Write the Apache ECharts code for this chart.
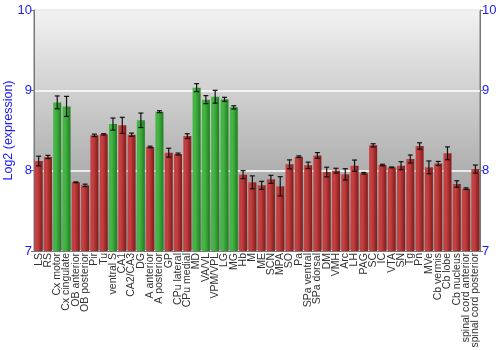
<!DOCTYPE html>
<html>
<head>
<meta charset="utf-8">
<script src="https://cdn.jsdelivr.net/npm/echarts@6/dist/echarts.min.js"></script>
<style>
  html, body { margin: 0; padding: 0; background: #fff; }
  #chart { width: 500px; height: 350px; }
</style>
</head>
<body>
<div id="chart"></div>
<script>
const regions = ['LS', 'RS', 'Cx motor', 'Cx cingulate', 'OB anterior', 'OB posterior', 'Pir', 'Tu',
  'ventral S', 'CA1', 'CA2/CA3', 'DG', 'A anterior', 'A posterior', 'GP', 'CPu lateral', 'CPu medial',
  'MD', 'VA/VL', 'VPM/VPL', 'LG', 'MG', 'Hb', 'M', 'ME', 'SCN', 'MPA', 'SO', 'Pa', 'SPa ventral',
  'SPa dorsal', 'DM', 'VMH', 'Arc', 'LH', 'PAG', 'SC', 'IC', 'VTA', 'SN', 'Tg', 'Pn', 'MVe',
  'Cb vermis', 'Cb lobe', 'Cb nucleus', 'spinal cord anterior', 'spinal cord posterior'];

const expression = [8.12, 8.17, 8.85, 8.80, 7.855, 7.817, 8.44, 8.452,
  8.58, 8.564, 8.448, 8.627, 8.295, 8.734, 8.224, 8.207, 8.43,
  9.033, 8.884, 8.92, 8.888, 8.788, 7.95, 7.855, 7.817, 7.892, 7.805, 8.079, 8.174, 8.066,
  8.19, 7.983, 8.0, 7.954, 8.062, 7.967, 8.315, 8.07, 8.041, 8.062, 8.145, 8.307, 8.041,
  8.09, 8.216, 7.834, 7.776, 8.02];

const errors = [0.06, 0.02, 0.08, 0.125, 0.005, 0.015, 0.015, 0.008,
  0.075, 0.1, 0.02, 0.09, 0.01, 0.012, 0.055, 0.012, 0.03,
  0.05, 0.05, 0.08, 0.025, 0.02, 0.05, 0.08, 0.05, 0.05, 0.12, 0.055, 0.01, 0.04,
  0.035, 0.06, 0.03, 0.07, 0.07, 0.01, 0.02, 0.01, 0.005, 0.05, 0.05, 0.04, 0.08,
  0.025, 0.08, 0.04, 0.01, 0.05];

// 1 = highlighted (green) region
const highlighted = [0, 0, 1, 1, 0, 0, 0, 0,
  1, 0, 0, 1, 0, 1, 0, 0, 0,
  1, 1, 1, 1, 1, 0, 0, 0, 0, 0, 0, 0, 0,
  0, 0, 0, 0, 0, 0, 0, 0, 0, 0, 0, 0, 0,
  0, 0, 0, 0, 0];

const yTicks = [7, 8, 9, 10];

const barGradient = (light, dark) => new echarts.graphic.LinearGradient(0, 0, 1, 0, [
  { offset: 0, color: light },
  { offset: 0.35, color: light },
  { offset: 1, color: dark }
]);
const redFill = barGradient('#c43f3f', '#801a1a');
const greenFill = barGradient('#44b444', '#1e7e1e');

const chart = echarts.init(document.getElementById('chart'));

const yAxisBase = {
  type: 'value',
  min: yTicks[0],
  max: yTicks[yTicks.length - 1],
  interval: 1,
  axisLine: { show: true, lineStyle: { color: '#777', width: 1 } },
  axisTick: { show: true, length: 3, lineStyle: { color: '#777' } },
  axisLabel: { color: '#1a1aff', fontSize: 13, fontFamily: 'Liberation Sans', margin: 2 },
  splitLine: { show: false }
};

const option = {
  animation: false,
  grid: {
    left: 34, right: 20, top: 10, bottom: 99,
    outerBoundsMode: 'none',
    containLabel: false,
    show: true,
    borderColor: '#777',
    borderWidth: 1,
    backgroundColor: new echarts.graphic.LinearGradient(0, 0, 0, 1, [
      { offset: 0, color: '#f2f2f2' },
      { offset: 1, color: '#8e8e8e' }
    ])
  },
  xAxis: {
    type: 'category',
    data: regions,
    axisLine: { show: true, lineStyle: { color: '#777' } },
    axisTick: { show: false },
    axisLabel: {
      interval: 0,
      rotate: 90,
      color: '#333',
      fontSize: 10.5,
      fontFamily: 'Liberation Sans',
      margin: 2,
      lineHeight: 11
    }
  },
  yAxis: [
    Object.assign({}, yAxisBase, {
      position: 'left',
      name: 'Log2 (expression)',
      nameLocation: 'middle',
      nameGap: 19,
      nameMoveOverlap: false,
      nameTextStyle: { color: '#1a1aff', fontSize: 12.5, fontFamily: 'Liberation Sans' },
      splitLine: { show: true, lineStyle: { color: '#ffffff', width: 1.5 } }
    }),
    Object.assign({}, yAxisBase, { position: 'right' })
  ],
  series: [
    {
      type: 'bar',
      barCategoryGap: '14%',
      data: expression.map((v, i) => ({
        value: v,
        itemStyle: { color: highlighted[i] ? greenFill : redFill }
      }))
    },
    {
      type: 'custom',
      z: 5,
      data: expression.map((v, i) => [i, v - errors[i], v + errors[i]]),
      renderItem: (params, api) => {
        const lo = api.coord([api.value(0), api.value(1)]);
        const hi = api.coord([api.value(0), api.value(2)]);
        const half = 2.5;
        const style = { stroke: '#111', lineWidth: 1.2 };
        return {
          type: 'group',
          children: [
            { type: 'line', shape: { x1: hi[0], y1: hi[1], x2: lo[0], y2: lo[1] }, style },
            { type: 'line', shape: { x1: hi[0] - half, y1: hi[1], x2: hi[0] + half, y2: hi[1] }, style },
            { type: 'line', shape: { x1: lo[0] - half, y1: lo[1], x2: lo[0] + half, y2: lo[1] }, style }
          ]
        };
      }
    }
  ]
};

chart.setOption(option);
</script>
</body>
</html>
